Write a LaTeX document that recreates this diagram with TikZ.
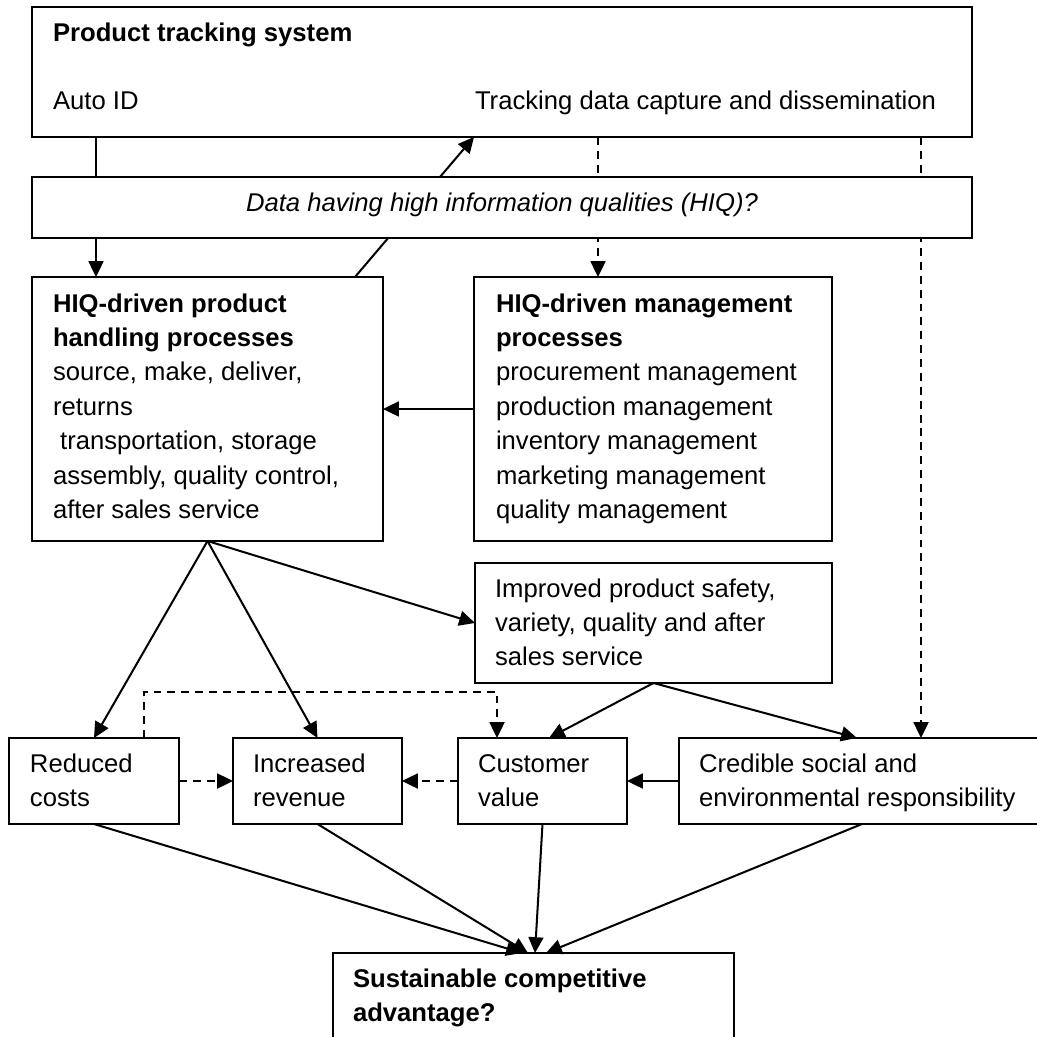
\documentclass[tikz,border=0pt]{standalone}
\usepackage{fontspec}
\setmainfont{Liberation Sans}
\usetikzlibrary{arrows.meta,fit}
\newcommand{\dgfont}{\fontsize{14.6pt}{19.6pt}\selectfont}
\newcommand{\boxlines}[1]{\parbox[t]{9cm}{\raggedright #1}}
\tikzset{
  box/.style={draw, line width=1pt, rectangle, inner sep=0pt, outer sep=0pt},
  lbl/.style={anchor=base west, inner sep=0pt, outer sep=0pt, font=\dgfont},
  arr/.style={line width=1.15pt, -{Triangle[length=9pt,width=8.5pt]}},
  darr/.style={arr, dash pattern=on 4.5pt off 3.4pt},
}
\begin{document}
\begin{tikzpicture}[x=0.02cm, y=-0.02cm]
\useasboundingbox (0,0) rectangle (1037,1037);
\clip (0,0) rectangle (1037,1037);
\fill[white] (0,0) rectangle (1037,1037);

% boxes
\node[box, fit={(32,7) (972,137)}] (top) {};
\node[box, fit={(32,277) (383,541)}] (prod) {};
\node[box, fit={(474,277) (832,541)}] (mgmt) {};
\node[box, fit={(475,563) (832,683)}] (impr) {};
\node[box, fit={(9,738) (179,824)}] (red) {};
\node[box, fit={(233,738) (402,824)}] (inc) {};
\node[box, fit={(458,738) (627,824)}] (cust) {};
\node[box, fit={(679,738) (1045,824)}] (cred) {};
\node[box, fit={(333,953) (734,1050)}] (sus) {};

% texts
\node[lbl] (toptitle) at (53,42) {\textbf{Product tracking system}};
\node[lbl] (autoid) at (53,110) {Auto ID};
\node[lbl] (trackcap) at (475,110) {Tracking data capture and dissemination};
\node[lbl] (prodt) at (53,312) {\boxlines{\textbf{HIQ-driven product}\\\textbf{handling processes}\\source, make, deliver,\\returns\\\hspace*{0.28em}transportation, storage\\assembly, quality control,\\after sales service}};
\node[lbl] (mgmtt) at (496,312) {\boxlines{\textbf{HIQ-driven management}\\\textbf{processes}\\procurement management\\production management\\inventory management\\marketing management\\quality management}};
\node[lbl] (imprt) at (495,597) {\boxlines{Improved product safety,\\variety, quality and after\\sales service}};
\node[lbl] (redt) at (30,772) {\boxlines{Reduced\\costs}};
\node[lbl] (inct) at (253,772) {\boxlines{Increased\\revenue}};
\node[lbl] (custt) at (478,772) {\boxlines{Customer\\value}};
\node[lbl] (credt) at (699,772) {\boxlines{Credible social and\\environmental responsibility}};
\node[lbl] (sust) at (353,987) {\boxlines{\textbf{Sustainable competitive}\\\textbf{advantage?}}};

% helper coordinates
\coordinate (xauto) at (96,0);
\coordinate (xd1) at (355,0);
\coordinate (xd2) at (474,0);
\coordinate (xm) at (598,0);
\coordinate (xr) at (921,0);
\coordinate (xc) at (549,0);
\coordinate (xcr) at (857,0);
\coordinate (elb1) at (144,692);
\coordinate (elb2) at (497,692);
\coordinate (t1) at (522,0);
\coordinate (t2) at (528,0);
\coordinate (t3) at (535,0);
\coordinate (t4) at (546,0);

% connectors through the band
\draw[arr] (top.south -| xauto) -- (prod.north -| xauto);
\draw[arr] (prod.north -| xd1) -- (top.south -| xd2);
\draw[darr] (top.south -| xm) -- (mgmt.north -| xm);
\draw[darr] (top.south -| xr) -- (cred.north -| xr);

% other connectors
\draw[arr] (mgmt.west) -- (prod.east);
\draw[arr] (prod.south) -- (red.north);
\draw[arr] (prod.south) -- (inc.north);
\draw[arr] (prod.south) -- (impr.west);
\draw[arr] (impr.south) -- (cust.north -| xc);
\draw[arr] (impr.south) -- (cred.north -| xcr);
\draw[darr] (red.east) -- (inc.west);
\draw[darr] (cust.west) -- (inc.east);
\draw[arr] (cred.west) -- (cust.east);
\draw[darr] (red.north -| elb1) -- (elb1) -- (elb2) -- (cust.north -| elb2);
\draw[arr] (red.south) -- (sus.north -| t1);
\draw[arr] (inc.south) -- (sus.north -| t2);
\draw[arr] (cust.south) -- (sus.north -| t3);
\draw[arr] (cred.south) -- (sus.north -| t4);

% band drawn on top
\node[box, fill=white, fit={(32,177) (972,238)}] (band) {};
\node[anchor=base, inner sep=0pt, font=\dgfont\itshape] (bandt) at (502,212) {Data having high information qualities (HIQ)?};
\end{tikzpicture}
\end{document}
